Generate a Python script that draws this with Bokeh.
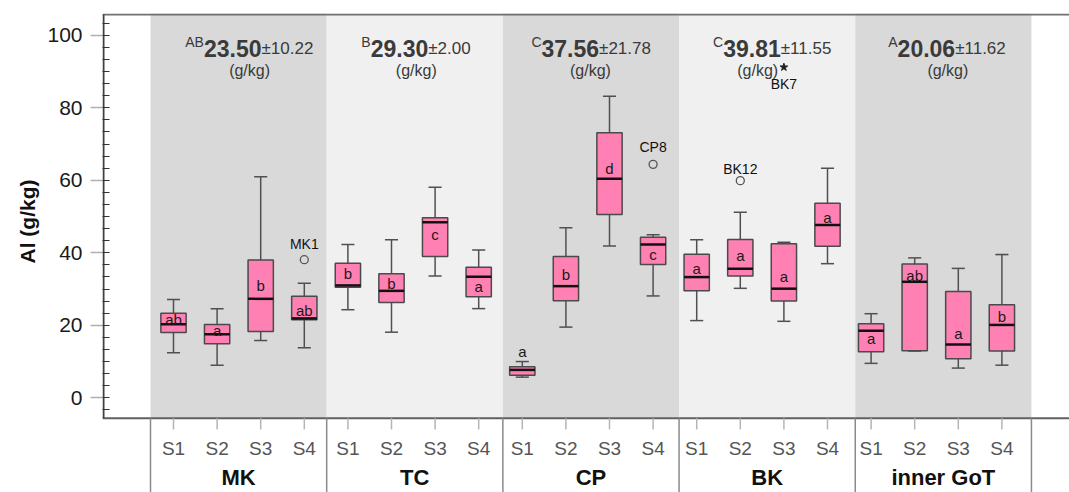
import math
from bokeh.plotting import figure
from bokeh.models import ColumnDataSource, FixedTicker, Title
from bokeh.core.properties import value
from bokeh.embed import file_html
from bokeh.resources import INLINE

# ---------------- data ----------------
groups = ["MK", "TC", "CP", "BK", "inner GoT"]
sites = ["S1", "S2", "S3", "S4"]

# box statistics for each group x site (MK S1..S4, TC S1..S4, ...)
whisk_lo = [12.4, 9.0, 15.8, 13.8,
            24.3, 18.1, 33.6, 24.6,
            5.7, 19.5, 41.9, 28.1,
            21.3, 30.2, 21.1, 37.0,
            9.5, 12.9, 8.2, 9.0]
q1 = [18.0, 14.9, 18.3, 21.5,
      30.5, 26.3, 39.0, 27.9,
      6.2, 26.8, 50.6, 36.8,
      29.5, 33.6, 26.7, 41.8,
      12.7, 13.0, 10.8, 12.9]
median = [20.3, 17.5, 27.3, 21.9,
          31.0, 29.5, 48.4, 33.4,
          7.7, 30.8, 60.4, 42.3,
          33.3, 35.6, 30.1, 47.7,
          18.5, 32.0, 14.7, 20.1]
q3 = [23.3, 20.2, 38.0, 28.0,
      37.1, 34.2, 49.7, 36.0,
      8.6, 39.0, 73.1, 44.3,
      39.6, 43.7, 42.5, 53.7,
      20.4, 36.9, 29.3, 25.7]
whisk_hi = [27.1, 24.6, 61.0, 31.6,
            42.3, 43.6, 58.1, 40.8,
            10.0, 46.9, 83.2, 45.0,
            43.6, 51.2, 42.9, 63.3,
            23.2, 38.6, 35.7, 39.5]
letters = ["ab", "a", "b", "ab",
           "b", "b", "c", "a",
           "a", "b", "d", "c",
           "a", "a", "a", "a",
           "a", "ab", "a", "b"]
letter_y = [21.7, 18.6, 31.0, 24.1,
            34.4, 31.4, 45.0, 30.7,
            12.8, 33.9, 63.3, 39.5,
            35.8, 39.3, 33.5, 49.7,
            16.3, 33.8, 17.7, 22.4]

# outliers (circles) and extremes (stars)
out_group = ["MK", "CP", "BK"]
out_site = ["S4", "S4", "S2"]
out_value = [38.1, 64.4, 59.9]
out_id = ["MK1", "CP8", "BK12"]
ext_group = ["BK"]
ext_site = ["S3"]
ext_value = [91.2]
ext_id = ["BK7"]

# group headers
grp_letter = ["AB", "B", "C", "C", "A"]
grp_mean = ["23.50", "29.30", "37.56", "39.81", "20.06"]
grp_sd = ["10.22", "2.00", "21.78", "11.55", "11.62"]
unit_text = "(g/kg)"

y_ticks = [0, 20, 40, 60, 80, 100]
y_title = "Al (g/kg)"

# ---------------- layout ----------------
W, H = 1069, 492
LEFT, TOP = 102, 13
PX = 43.6      # px per category slot
PY = 3.625     # px per g/kg
X0_PX = 173.0  # pixel of first category centre
x_start = (LEFT - X0_PX) / PX
x_end = x_start + (W - LEFT) / PX
ZERO_PX = 397.3
y_end = (ZERO_PX - TOP) / PY
y_start = y_end - (H - TOP) / PY
y_axis = (ZERO_PX - 417.7) / PY   # bottom axis line

band_w = 4.041
band_x0 = (150 - X0_PX) / PX
edges = [band_x0 + band_w * g for g in range(len(groups) + 1)]
centers = [(edges[g] + edges[g + 1]) / 2 for g in range(len(groups))]
band_cols = ["#d9d9d9", "#f0f0f0", "#d9d9d9", "#f0f0f0", "#d9d9d9"]

FONT = "Liberation Sans"

p = figure(width=W, height=H, x_range=(x_start, x_end), y_range=(y_start, y_end),
           output_backend="svg", toolbar_location=None,
           x_axis_location=None, y_axis_location="left",
           min_border_left=LEFT, min_border_top=TOP, min_border_right=0, min_border_bottom=0)
p.outline_line_color = None
p.grid.visible = False
p.background_fill_color = "white"

# bands
p.quad(left=edges[:-1], right=edges[1:], bottom=[y_axis] * len(groups),
       top=[y_end] * len(groups), fill_color=band_cols, line_color=None)

# frame lines
p.segment(x0=[x_start], y0=[(ZERO_PX - 14) / PY], x1=[x_end], y1=[(ZERO_PX - 14) / PY],
          line_color="#707070", line_width=2)
p.segment(x0=[x_start], y0=[y_axis], x1=[x_end], y1=[y_axis],
          line_color="#606060", line_width=2)
p.segment(x0=[x_start + 1.0 / PX], y0=[y_axis], x1=[x_start + 1.0 / PX], y1=[(ZERO_PX - 14) / PY],
          line_color="#404040", line_width=2)

# boxes
n = len(whisk_lo)
xs = list(range(n))
bw, cw = 0.58, 0.30
src = ColumnDataSource(dict(x=xs, lo=whisk_lo, q1=q1, med=median, q3=q3, hi=whisk_hi,
                            xl=[x - bw / 2 for x in xs], xr=[x + bw / 2 for x in xs],
                            cl=[x - cw / 2 for x in xs], cr=[x + cw / 2 for x in xs],
                            let=letters, ly=letter_y))
p.segment(x0="x", y0="q3", x1="x", y1="hi", source=src, line_color="#505050", line_width=1.5)
p.segment(x0="x", y0="q1", x1="x", y1="lo", source=src, line_color="#505050", line_width=1.5)
p.segment(x0="cl", y0="hi", x1="cr", y1="hi", source=src, line_color="#505050", line_width=1.5)
p.segment(x0="cl", y0="lo", x1="cr", y1="lo", source=src, line_color="#505050", line_width=1.5)
p.quad(left="xl", right="xr", bottom="q1", top="q3", source=src,
       fill_color="#ff80b2", line_color="#4a4a4a", line_width=1.5)
p.segment(x0="xl", y0="med", x1="xr", y1="med", source=src, line_color="#111111", line_width=2.5)
p.text(x="x", y="ly", text="let", source=src, text_align="center", text_baseline="middle",
       text_font=value(FONT), text_font_size="15px", text_color="#1a1a1a")

# outliers
def pos(g, s):
    return groups.index(g) * 4 + sites.index(s)

osrc = ColumnDataSource(dict(x=[pos(g, s) for g, s in zip(out_group, out_site)],
                             y=out_value, t=out_id, off=[-16, -17, -12]))
p.scatter(x="x", y="y", source=osrc, marker="circle", size=8, fill_color=None,
          line_color="#555555", line_width=1.3)
p.text(x="x", y="y", text="t", source=osrc, y_offset="off",
       text_align="center", text_baseline="middle",
       text_font=value(FONT), text_font_size="14px", text_color="#111111")
esrc = ColumnDataSource(dict(x=[pos(g, s) for g, s in zip(ext_group, ext_site)],
                             y=ext_value, t=ext_id))
p.scatter(x="x", y="y", source=esrc, marker="star", size=8, fill_color="#222222",
          line_color="#222222")
p.text(x="x", y="y", text="t", source=esrc, y_offset=17,
       text_align="center", text_baseline="middle",
       text_font=value(FONT), text_font_size="14px", text_color="#111111")

# headers
CW = {"0": .556, "1": .556, "2": .556, "3": .556, "4": .556, "5": .556, "6": .556,
      "7": .556, "8": .556, "9": .556, ".": .278, "±": .584, "A": .667, "B": .667, "C": .722}
def tw(s, size):
    return sum(CW.get(c, .556) for c in s) * size

SUP, NUM, SD = 14, 23, 17
head_shift = [11, 1.5, 0.5, 6, 4.6]
unit_shift = [11, 1.5, -0.5, -9.5, 4.5]
sup_x, num_x, sd_x, sd_txt, unit_x = [], [], [], [], []
for g in range(len(groups)):
    sdt = "±" + grp_sd[g]
    w1, w2, w3 = tw(grp_letter[g], SUP), tw(grp_mean[g], NUM), tw(sdt, SD)
    c_px = X0_PX + centers[g] * PX + head_shift[g]
    left = c_px - (w1 + w2 + w3) / 2
    sup_x.append((left - X0_PX) / PX)
    num_x.append((left + w1 - X0_PX) / PX)
    sd_x.append((left + w1 + w2 - X0_PX) / PX)
    sd_txt.append(sdt)
    unit_x.append(centers[g] + unit_shift[g] / PX)

base = (ZERO_PX - 48) / PY
p.text(x=sup_x, y=[(ZERO_PX - 41.5) / PY] * 5, text=grp_letter, text_align="left",
       text_baseline="alphabetic", text_font=value(FONT), text_font_size=f"{SUP}px",
       text_color="#3a3a3a")
p.text(x=num_x, y=[base] * 5, text=grp_mean, text_align="left", text_baseline="alphabetic",
       text_font=value(FONT), text_font_size=f"{NUM}px", text_font_style="bold",
       text_color="#3a3a3a")
p.text(x=sd_x, y=[base] * 5, text=sd_txt, text_align="left", text_baseline="alphabetic",
       text_font=value(FONT), text_font_size=f"{SD}px", text_color="#3a3a3a")
p.text(x=unit_x, y=[(ZERO_PX - 69.5) / PY] * 5, text=[unit_text] * 5, text_align="center",
       text_baseline="alphabetic", text_font=value(FONT), text_font_size="16px",
       text_color="#3a3a3a")

# bottom category axis (drawn inside the extended frame)
tick_lo = (ZERO_PX - 429) / PY
p.segment(x0=xs, y0=[y_axis] * n, x1=xs, y1=[tick_lo] * n, line_color="#b5b5b5", line_width=1.5)
p.text(x=xs, y=[(ZERO_PX - 448) / PY] * n, text=sites * len(groups), text_align="center",
       text_baseline="middle", text_font=value(FONT), text_font_size="19px", text_color="#555555")
p.segment(x0=edges, y0=[y_axis] * len(edges), x1=edges, y1=[y_start] * len(edges),
          line_color="#8a8a8a", line_width=1.5)
p.text(x=centers, y=[(ZERO_PX - 477) / PY] * len(groups), text=groups, text_align="center",
       text_baseline="middle", text_font=value(FONT), text_font_size="22px",
       text_font_style="bold", text_color="#111111")

# y axis
ax = p.yaxis[0]
ax.ticker = FixedTicker(ticks=y_ticks, minor_ticks=[i * 10 / 3 for i in range(-1, 32)])
ax.axis_line_color = None
ax.major_tick_out = 12
ax.major_tick_in = 0
ax.major_tick_line_color = "#b0b0b0"
ax.major_tick_line_width = 1.5
ax.minor_tick_in = 7
ax.minor_tick_out = 0
ax.minor_tick_line_color = "#333333"
ax.minor_tick_line_width = 1.2
ax.major_label_text_font = FONT
ax.major_label_text_font_size = "21px"
ax.major_label_text_color = "#1a1a1a"
ax.major_label_standoff = 8

p.add_layout(Title(text=y_title, align="left", offset=229, standoff=11,
                   text_font=FONT, text_font_size="21px", text_font_style="bold",
                   text_color="#111111"), "left")

open("out.html", "w").write(file_html(p, INLINE))
